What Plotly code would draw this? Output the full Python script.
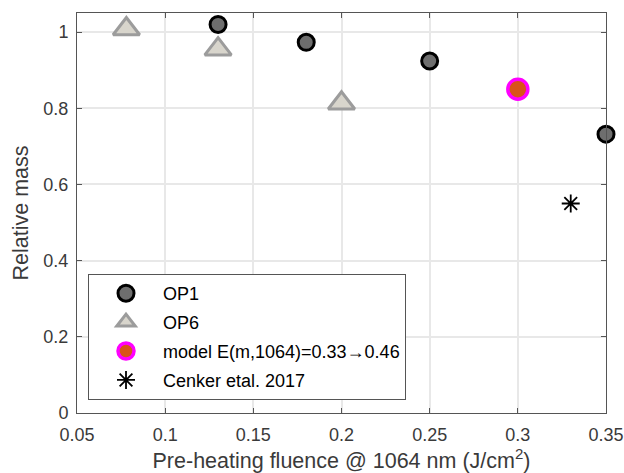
import plotly.graph_objects as go

op1_x = [0.13, 0.18, 0.25, 0.35]
op1_y = [1.02, 0.973, 0.924, 0.732]
op6_x = [0.078, 0.13, 0.20]
op6_y = [1.008, 0.955, 0.813]
model_x = [0.30]
model_y = [0.85]
cenker_x = [0.33]
cenker_y = [0.55]

x_ticks = [0.05, 0.1, 0.15, 0.2, 0.25, 0.3, 0.35]
x_tick_labels = ["0.05", "0.1", "0.15", "0.2", "0.25", "0.3", "0.35"]
y_ticks = [0, 0.2, 0.4, 0.6, 0.8, 1]
y_tick_labels = ["0", "0.2", "0.4", "0.6", "0.8", "1"]

FONT = "Liberation Sans, Arial"
TXT = "#3a3a3a"

fig = go.Figure()
fig.add_trace(go.Scatter(x=op1_x, y=op1_y, mode="markers", name="OP1", legendgroup="a",
    marker=dict(symbol="circle", size=16, color="#6e6e6e", line=dict(color="black", width=3))))
fig.add_trace(go.Scatter(x=op6_x, y=op6_y, mode="markers", name="OP6", legendgroup="b",
    marker=dict(symbol="triangle-up", size=23, color="#d8d5cc", line=dict(color="#9c9c9c", width=3))))
fig.add_trace(go.Scatter(x=model_x, y=model_y, mode="markers", name="model E(m,1064)=0.33\u21920.46",
    legendgroup="c",
    marker=dict(symbol="circle", size=20, color="#d95319", line=dict(color="#ff00ff", width=3.5))))
fig.add_trace(go.Scatter(x=cenker_x, y=cenker_y, mode="markers", name="Cenker etal. 2017", legendgroup="d",
    marker=dict(symbol="asterisk-open", size=15, color="black", line=dict(color="black", width=1.8))))

fig.update_traces(cliponaxis=False)

axis_common = dict(showline=True, linecolor="#555555", linewidth=1, mirror="ticks",
                   ticks="inside", ticklen=5, tickcolor="#555555",
                   showgrid=True, gridcolor="#e8e8e8", gridwidth=1.5, zeroline=False,
                   automargin=False,
                   tickfont=dict(family=FONT, size=18, color=TXT))

fig.update_xaxes(range=[0.05, 0.35], tickvals=x_ticks, ticktext=x_tick_labels,
                 ticklabelstandoff=5,
                 title=dict(text="Pre-heating fluence @ 1064 nm (J/cm<sup>2</sup>)",
                            font=dict(family=FONT, size=21.5, color=TXT), standoff=9),
                 **axis_common)
fig.update_yaxes(range=[0, 1.05], tickvals=y_ticks, ticktext=y_tick_labels,
                 ticklabelstandoff=4,
                 title=dict(text="Relative mass",
                            font=dict(family=FONT, size=21.5, color=TXT), standoff=8),
                 **axis_common)

fig.update_layout(
    width=624, height=473,
    margin=dict(l=77, r=18, t=13, b=60),
    plot_bgcolor="white", paper_bgcolor="white",
    legend=dict(x=0.0208, y=0.3475, xanchor="left", yanchor="top",
                bgcolor="white", bordercolor="#555555", borderwidth=1,
                font=dict(family=FONT, size=18, color="black"),
                tracegroupgap=2.5, itemsizing="trace", itemwidth=64),
    showlegend=True,
)

fig.write_html("out.html", config={"displayModeBar": False},
               post_script="document.body.style.margin='0px';")
